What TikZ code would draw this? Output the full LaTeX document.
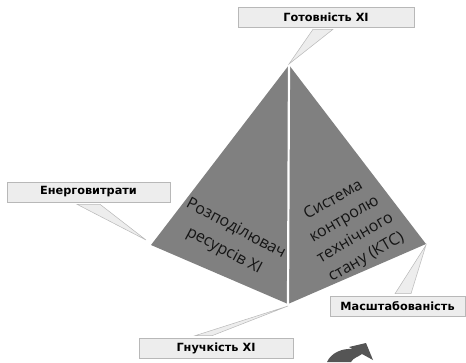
\documentclass[tikz,border=0pt]{standalone}
\usepackage{fontspec}
\setmainfont{Open Sans}
\newfontfamily\boxfont{DejaVu Sans}
\usetikzlibrary{backgrounds}
\definecolor{pyrgray}{HTML}{808080}
\definecolor{boxfill}{HTML}{EDEDED}
\definecolor{boxline}{HTML}{B8B8B8}
\definecolor{textdark}{HTML}{151515}
\definecolor{arrowgray}{HTML}{555555}
\begin{document}
\begin{tikzpicture}[x=1pt,y=-1pt,
  face/.style={fill=pyrgray,draw=none},
  divider/.style={draw=white,line width=2.2pt},
  labelbox/.style={rectangle,fill=boxfill,draw=boxline,line width=0.6pt,
    minimum height=20pt,inner sep=0pt,text=black,
    font=\boxfont\bfseries\fontsize{11.3}{12}\selectfont},
  pointer/.style={fill=boxfill,draw=boxline,line width=0.5pt,line join=miter},
  inner/.style={align=center,text=textdark,inner sep=0pt,
    font=\fontsize{16}{22}\selectfont},
  bendarrow/.style={fill=arrowgray,draw=none}
]
\useasboundingbox (0,0) rectangle (466,362);
% pyramid vertices
\coordinate (T) at (289,65);
\coordinate (L) at (151,245);
\coordinate (R) at (426,244);
\coordinate (B) at (288,304);
% tips of the callout pointers
\coordinate (tT) at (289,64);
\coordinate (tL) at (146,240);
\coordinate (tR) at (426,245);
\coordinate (tB) at (288,306);

% label boxes
\node[labelbox,minimum width=176pt] (gotov) at (326,17) {Готовність XI};
\node[labelbox,minimum width=163pt] (energ) at (88.5,192) {Енерговитрати};
\node[labelbox,minimum width=135pt] (masht) at (397.5,306) {Масштабованість};
\node[labelbox,minimum width=154pt] (gnuch) at (216,348) {Гнучкість XI};

\begin{scope}[on background layer]
  \fill[face] (T) -- (L) -- (B) -- (R) -- cycle;
  \draw[divider] (T) -- (B);
  \filldraw[pointer] ([xshift=-13pt,yshift=-2pt]gotov.south) -- (tT) -- ([xshift=7pt,yshift=-2pt]gotov.south) -- cycle;
  \filldraw[pointer] ([xshift=-11.5pt,yshift=-2pt]energ.south) -- (tL) -- ([xshift=11.5pt,yshift=-2pt]energ.south) -- cycle;
  \filldraw[pointer] ([xshift=-2.5pt,yshift=2pt]masht.north) -- (tR) -- ([xshift=13.5pt,yshift=2pt]masht.north) -- cycle;
  \filldraw[pointer] ([xshift=-21pt,yshift=2pt]gnuch.north) -- (tB) -- ([xshift=-4pt,yshift=2pt]gnuch.north) -- cycle;
\end{scope}

% texts on the faces
\node[inner,rotate=-28,font=\fontsize{16}{25}\selectfont] (res) at (230,240) {Розподілювач\\ресурсів XI};
\node[inner,rotate=30] (ktc) at (350,229) {Система\\контролю\\технічного\\стану (КТС)};

% curved arrow at the bottom
\fill[bendarrow] (327,362) .. controls (331,353) and (342,348) .. (353,349)
  -- (349,347) -- (366,343) -- (373,360) -- (362,354)
  .. controls (358,357) and (353,358) .. (351,362) -- cycle;
\end{tikzpicture}
\end{document}
